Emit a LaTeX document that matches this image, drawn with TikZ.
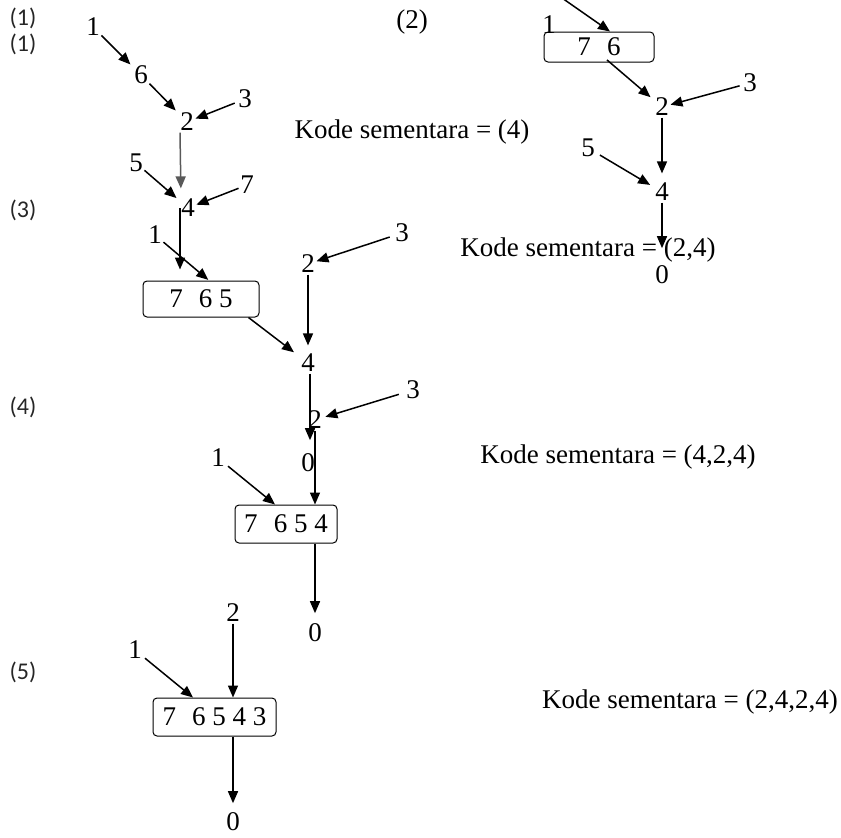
\documentclass[tikz,border=0pt]{standalone}
\usepackage{fontspec}
\setmainfont{Liberation Serif}
\newfontfamily\labfont{Carlito}
\usetikzlibrary{arrows.meta}
\tikzset{
  num/.style={font=\fontsize{27}{30}\selectfont, inner sep=1.5pt},
  kode/.style={font=\fontsize{27}{30}\selectfont, inner sep=0pt},
  lab/.style={font=\labfont\fontsize{24}{26}\selectfont, inner sep=0pt, text=black!85},
  arr/.style={line width=1.5pt, -{Triangle[length=12pt,width=10pt]}},
  boxn/.style={draw, line width=1pt, rounded corners=4pt, inner sep=0pt, font=\fontsize{27}{30}\selectfont},
}
\newcommand{\gp}{\hspace{0.6em}}
\begin{document}
\begin{tikzpicture}[x=1pt,y=-1pt]
\useasboundingbox (0,0) rectangle (841,838);
% labels
\node[lab] (l1a) at (23,18) {(1)};
\node[lab] (l1b) at (23,44) {(1)};
\node[num] (l2) at (412,22) {(2)};
\node[lab] (l3) at (23,210) {(3)};
\node[lab] (l4) at (23,407) {(4)};
\node[lab] (l5) at (23,672) {(5)};

% ---- panel 1
\node[num] (a1) at (93,27) {1};
\node[num] (a6) at (141,75) {6};
\node[num] (a2) at (187,122) {2};
\node[num] (a3) at (245,99) {3};
\node[num] (a5) at (136,163) {5};
\node[num] (a4) at (188,208) {4};
\node[num] (a7) at (247,185) {7};
\node[kode] (k1) at (412,132) {Kode sementara = (4)};
\draw[arr, shorten >=3pt] (a1) -- (a6);
\draw[arr, shorten >=4pt] (a6) -- (a2);
\draw[arr, shorten <=2pt] (a3) -- (a2);
\draw[arr, gray!70!black, shorten >=9pt] ([xshift=-7pt]a2.south) -- ([xshift=-7pt]a4.north);
\draw[arr, shorten >=4pt] (a5) -- (a4);
\draw[arr] (a7) -- (a4);

% ---- panel 2
\coordinate (gt) at (562,-2);
\node[num] (g1) at (549,25) {1};
\node[boxn, minimum width=110pt, minimum height=30pt] (b2) at (599,47) {7\gp 6\hspace{0.5em}};
\node[num] (g2) at (662,107) {2};
\node[num] (g3) at (750,83) {3};
\node[num] (g5) at (588,148) {5};
\node[num] (g4) at (662,192) {4};
\node[num] (g0) at (662,275) {0};
\node[kode] (k4) at (588,250) {Kode sementara = (2,4)};
\draw[arr] (gt) -- ([xshift=11pt]b2.north);
\draw[arr, shorten <=-4pt, shorten >=4pt] ([xshift=11pt]b2.south) -- (g2);
\draw[arr, shorten <=2pt] (g3) -- (g2);
\draw[arr, shorten >=8pt] (g2.south) -- (g4.north);
\draw[arr, shorten <=4pt, shorten >=4pt] (g5) -- (g4);
\draw[arr, shorten >=16pt] (g4.south) -- (g0.north);

% ---- panel 3
\node[num] (c1) at (155,235) {1};
\node[boxn, minimum width=116pt, minimum height=36pt] (b3) at (201,299) {7\gp 6 5};
\node[num] (c2) at (308,264) {2};
\node[num] (c3) at (402,233) {3};
\node[num] (c4) at (308,363) {4};
\draw[arr, shorten >=11pt] ([xshift=-8pt]a4.center) -- ([xshift=-8pt]a4.center |- b3.north);
\draw[arr, shorten >=1pt] (c1) -- ([xshift=8pt]b3.north);
\draw[arr, shorten >=7pt] ([xshift=-11pt]b3.south east) -- (c4);
\draw[arr, shorten <=4pt] (c3) -- (c2);
\draw[arr, shorten >=7pt] (c2.south) -- (c4.north);

% ---- panel 4
\node[num] (d2) at (315,420) {2};
\node[num] (d3) at (413,390) {3};
\node[num] (d0) at (308,463) {0};
\node[num] (d1) at (218,458) {1};
\node[boxn, minimum width=102pt, minimum height=38pt] (b4) at (286,524) {7\gp 6 5 4};
\node[num] (e0) at (315,633) {0};
\node[kode] (k2) at (618,457) {Kode sementara = (4,2,4)};
\draw[arr, shorten >=12pt] ([xshift=2pt]c4.south) -- ([xshift=2pt]c4.south |- d0.north);
\draw[arr, shorten <=6pt, shorten >=2pt] (d3) -- (d2);
\draw[arr] (d2.south) -- (d2.south |- b4.north);
\draw[arr, shorten <=2pt] (d1) -- ([xshift=-11pt]b4.north);
\draw[arr, shorten >=9pt] ([xshift=29pt]b4.south) -- (e0.north);

% ---- panel 5
\node[num] (f2) at (233,613) {2};
\node[num] (f1) at (135,650) {1};
\node[boxn, minimum width=123pt, minimum height=38pt] (b5) at (214.5,717) {7\gp 6 5 4 3};
\node[num] (f0) at (233,822) {0};
\node[kode] (k3) at (690,702) {Kode sementara = (2,4,2,4)};
\draw[arr] (f2.south) -- (f2.south |- b5.north);
\draw[arr, shorten <=2pt] (f1) -- ([xshift=-21.5pt]b5.north);
\draw[arr, shorten >=8pt] ([xshift=18.5pt]b5.south) -- (f0.north);
\end{tikzpicture}
\end{document}
